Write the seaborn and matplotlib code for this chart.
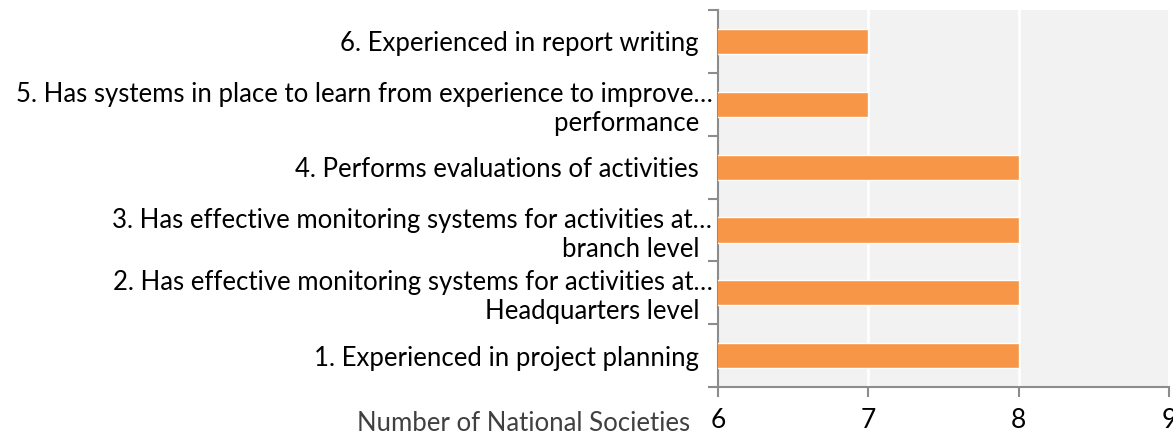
import pandas as pd
import matplotlib.pyplot as plt
import seaborn as sns

# --- dados ---
categorias = [
    "6. Experienced in report writing  ",
    "5. Has systems in place to learn from experience to improve\u2026\nperformance  ",
    "4. Performs evaluations of activities  ",
    "3. Has effective monitoring systems for activities at\u2026\nbranch level  ",
    "2. Has effective monitoring systems for activities at\u2026\nHeadquarters level  ",
    "1. Experienced in project planning  ",
]
valores = [7, 7, 8, 8, 8, 8]
ticks_x = [6, 7, 8, 9]

df = pd.DataFrame({"cat": categorias, "val": valores})

sns.set_theme(style="white")
plt.rcParams["font.family"] = ["Lato", "DejaVu Sans"]

fig = plt.figure(figsize=(11.73, 4.36), dpi=100)
ax = fig.add_axes([0.612, 0.112, 0.3846, 0.865])
ax.set_facecolor("#f2f2f2")

sns.barplot(data=df, x="val", y="cat", orient="h", color="#f79646",
            width=0.4, saturation=1, ax=ax, zorder=3)

ax.set_xlim(6, 9)
ax.set_xticks(ticks_x)
ax.set_ylim(5.5, -0.5)
for v in ticks_x[1:]:
    ax.axvline(v, color="white", lw=2, zorder=1)

for s in ["top", "right"]:
    ax.spines[s].set_visible(False)
for s in ["left", "bottom"]:
    ax.spines[s].set_color("#8c8c8c")
    ax.spines[s].set_linewidth(1.5)

ax.set_yticks([i + 0.5 for i in range(-1, 6)], minor=True)
ax.tick_params(axis="y", which="major", left=True, length=0, pad=4, labelsize=18.5, labelcolor="black")
ax.tick_params(axis="y", which="minor", left=True, length=7, width=1.5, color="#8c8c8c")
ax.tick_params(axis="x", bottom=True, length=7, width=1.5, color="#8c8c8c", pad=8,
               labelsize=19, labelcolor="black")
ax.set_ylabel("")
ax.set_xlabel("Number of National Societies", fontsize=18.5, color="#404040", ha="right", va="center")
ax.xaxis.set_label_coords(-0.062, -0.096)

plt.savefig("out.png", dpi=100)
